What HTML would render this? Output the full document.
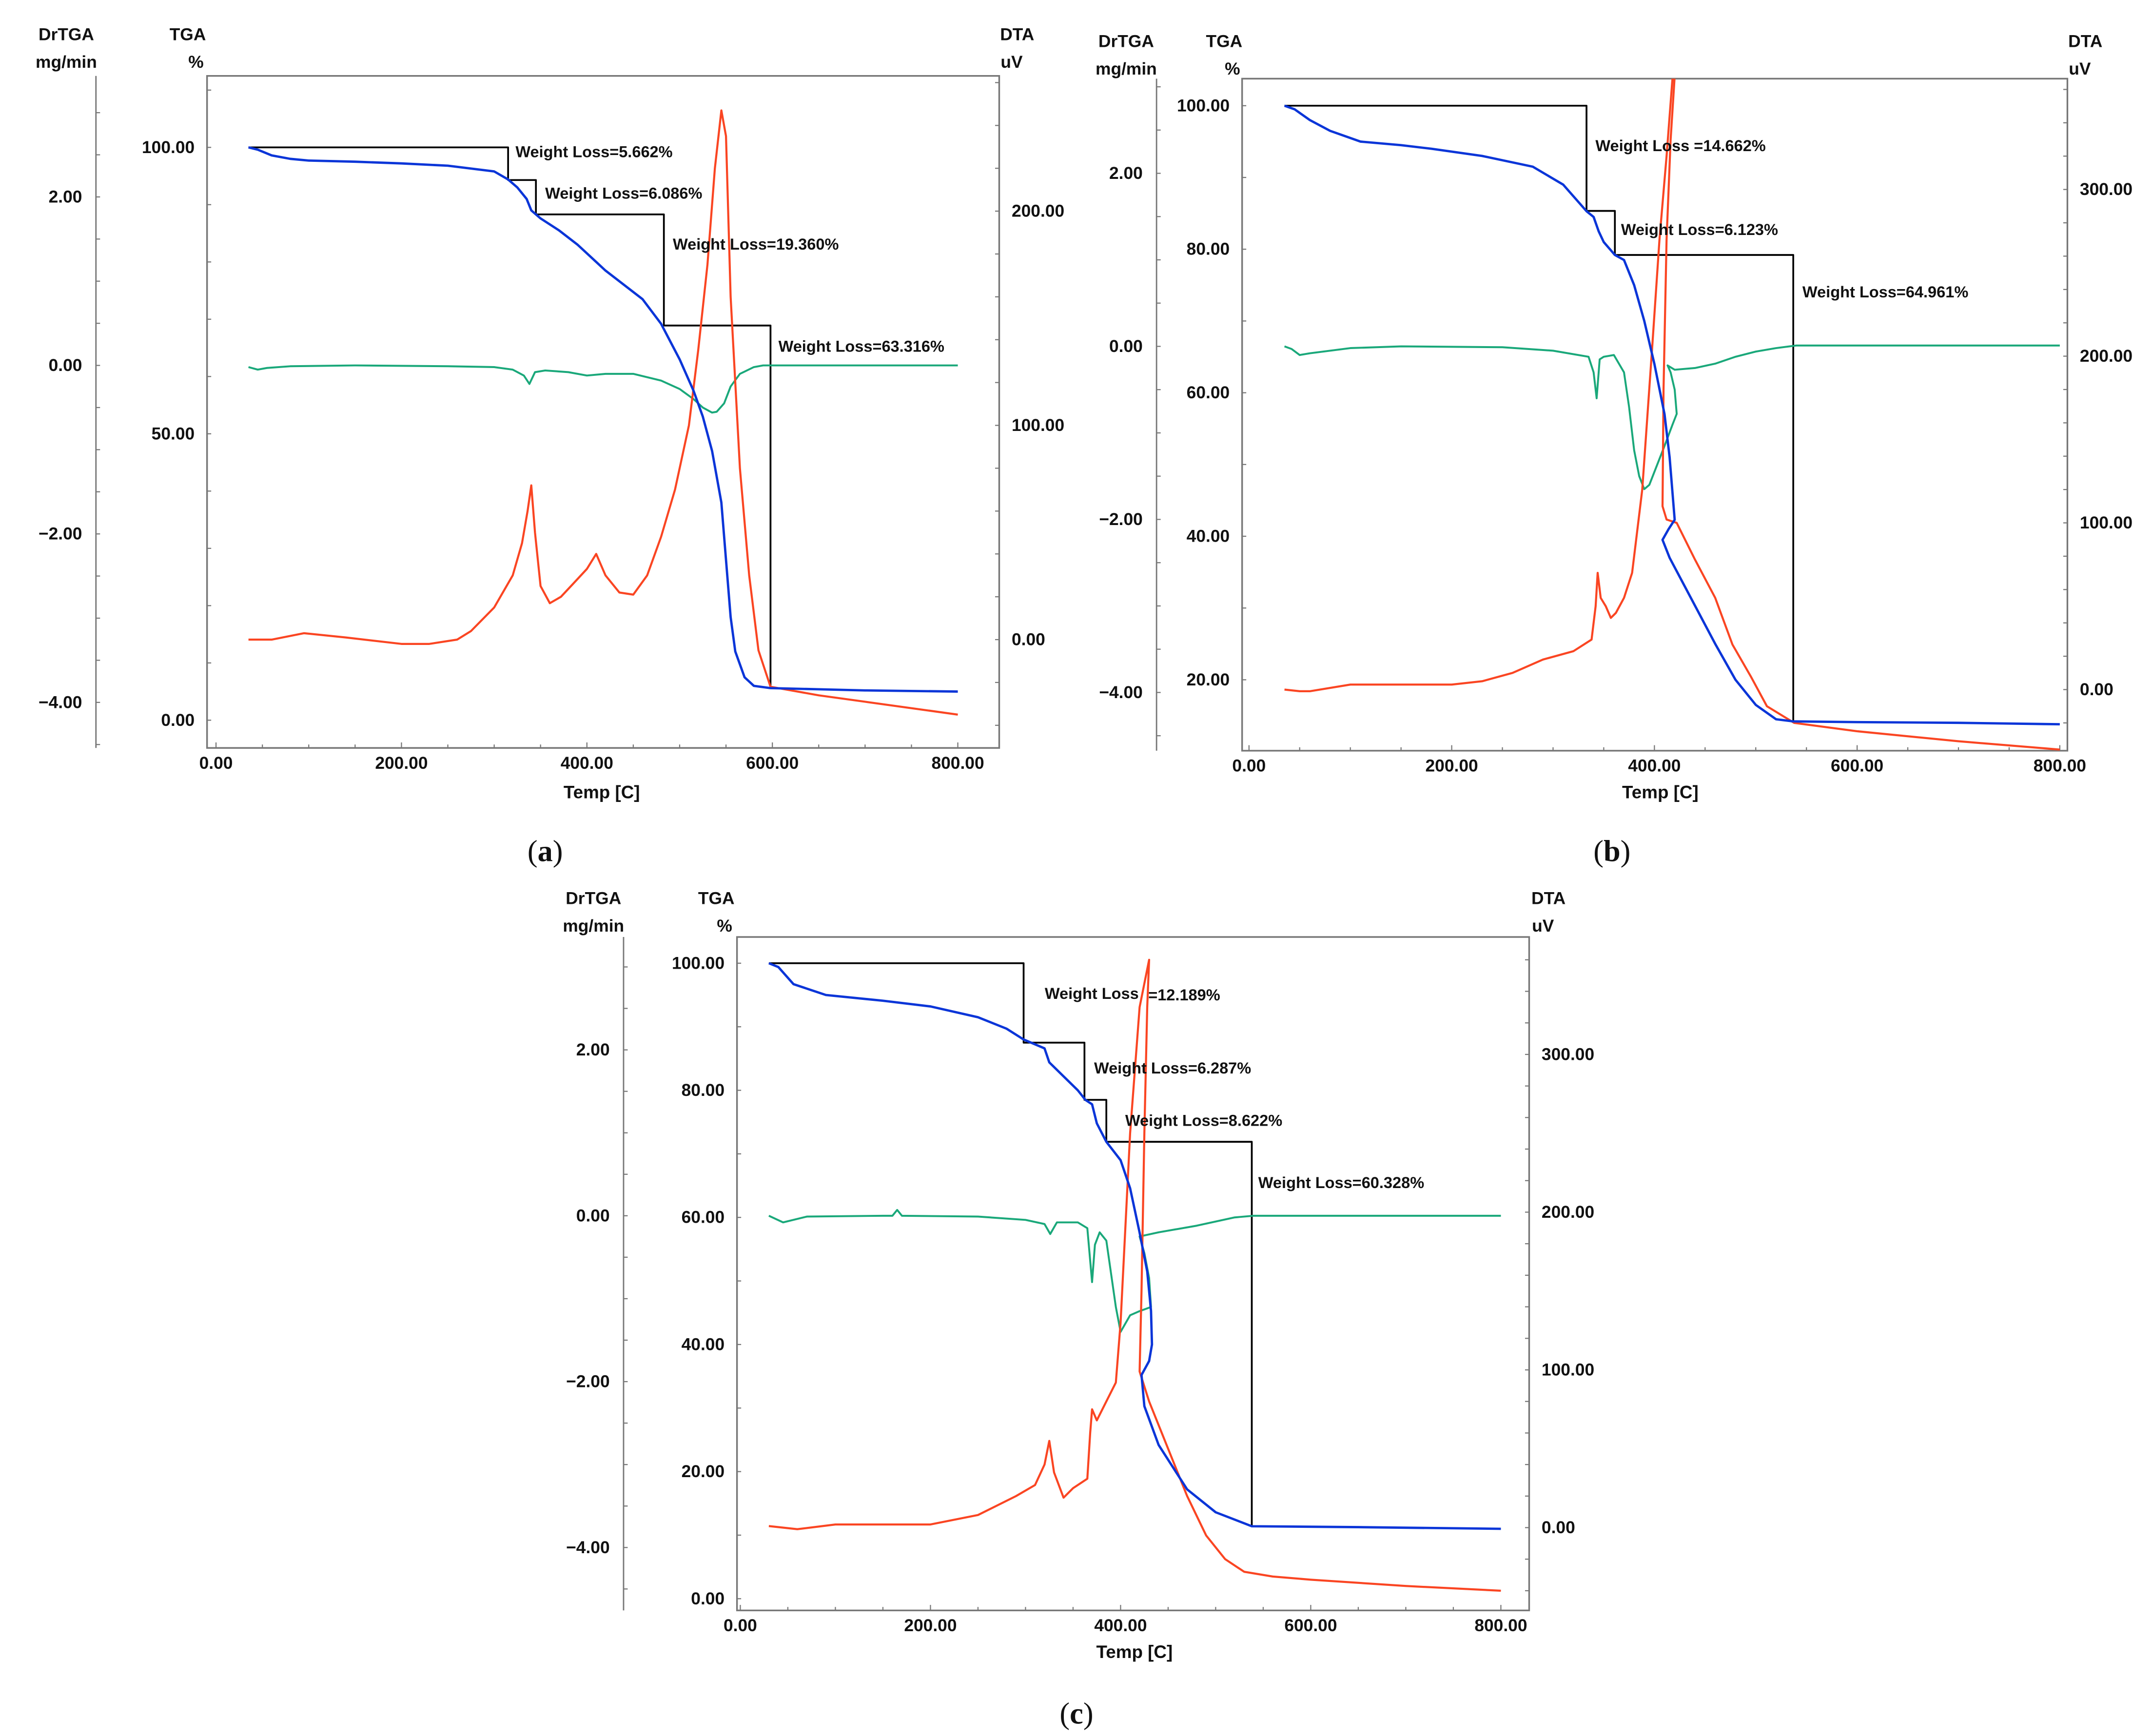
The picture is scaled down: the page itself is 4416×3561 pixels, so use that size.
<!DOCTYPE html>
<html><head><meta charset="utf-8"><style>
html,body{margin:0;padding:0;background:#fff}
svg{display:block}
text{font-family:"Liberation Sans",sans-serif}
</style></head><body>
<svg id="fig" xmlns="http://www.w3.org/2000/svg" width="4416" height="3561" viewBox="0 0 1560 1258">
<rect width="1560" height="1258" fill="#fff"/>
</svg>
<script>
// ---- Panel (a) data ----
const aTgaT=[35,45,60,80,100,150,200,250,300,315,325,335,340,345,350,370,390,410,420,440,460,480,500,515,525,535,545,550,555,560,570,580,598,650,700,800];
const aTgaV=[100,99.6,98.6,98,97.7,97.5,97.2,96.8,95.8,94.4,93,91,89,88.3,87.6,85.5,83,80,78.5,76,73.5,69.2,63,57.5,53,47,38,28,18,12,7.5,6,5.6,5.4,5.2,5];
const aStepT=[35,315,315,345,345,483,483,598,598];
const aStepV=[100,100,94.3,94.3,88.3,88.3,68.9,68.9,5.6];
const aDrT=[35,45,55,80,150,250,300,320,332,338,344,355,380,400,420,450,480,500,515,525,535,540,548,555,565,580,590,620,800];
const aDrV=[-0.02,-0.05,-0.03,-0.01,0,-0.01,-0.02,-0.05,-0.12,-0.22,-0.08,-0.06,-0.08,-0.12,-0.1,-0.1,-0.18,-0.28,-0.4,-0.5,-0.56,-0.55,-0.45,-0.25,-0.1,-0.02,0,0,0];
const aDtaT=[35,60,95,140,200,230,260,275,300,320,330,336,340,344,350,360,372,385,400,410,420,435,450,465,480,495,510,520,530,538,545,550,555,565,575,585,598,650,700,800];
const aDtaV=[0,0,3,1,-2,-2,0,4,15,30,45,60,72,50,25,17,20,26,33,40,30,22,21,30,48,70,100,135,175,220,247,235,160,80,30,-5,-22,-26,-29,-35];
const aTgaTicks=[0,50,100], aDrTicks=[2,0,-2,-4], aDtaTicks=[0,100,200], aXTicks=[0,200,400,600,800];
const aLabels=["Weight Loss=5.662%","Weight Loss=6.086%","Weight Loss=19.360%","Weight Loss=63.316%"];

// ---- Panel (b) data ----
const bTgaT=[35,45,60,80,110,150,180,230,280,310,333,340,345,350,361,370,380,390,400,410,415,420,414,408,415,430,445,460,480,500,520,537,600,700,800];
const bTgaV=[100,99.5,98,96.5,95,94.5,94,93,91.5,89,85.3,84.5,82.5,81,79.2,78.5,75,70,64,57,51,42.3,41,39.5,37,33,29,25,20,16.5,14.5,14.2,14.1,14,13.8];
const bStepT=[35,333,333,361,361,537,537];
const bStepV=[100,100,85.34,85.34,79.2,79.2,14.24];
const bDrT=[35,42,50,60,100,150,250,300,335,340,343,346,350,360,370,375,380,385,390,395,400,410,418,422,420,416,413,420,440,460,480,500,520,540,800];
const bDrV=[0,-0.03,-0.1,-0.08,-0.02,0,-0.01,-0.05,-0.12,-0.3,-0.6,-0.15,-0.12,-0.1,-0.3,-0.7,-1.2,-1.5,-1.65,-1.6,-1.45,-1.15,-0.9,-0.78,-0.5,-0.3,-0.22,-0.27,-0.25,-0.2,-0.12,-0.06,-0.02,0.01,0.01];
const bDtaT=[35,50,60,100,200,230,260,290,320,338,342,344,347,352,357,362,370,378,388,398,405,412,418,420,416,412,409,408,412,422,440,460,477,495,511,538,600,700,800];
const bDtaV=[0,-1,-1,3,3,5,10,18,23,30,50,70,55,50,43,46,55,70,120,207,270,320,368,368,330,270,180,110,102,100,78,55,27,8,-10,-20,-25,-31,-36];
const bTgaTicks=[20,40,60,80,100], bDrTicks=[2,0,-2,-4], bDtaTicks=[0,100,200,300], bXTicks=[0,200,400,600,800];
const bLabels=["Weight Loss =14.662%","Weight Loss=6.123%","Weight Loss=64.961%"];

// ---- Panel (c) data ----
const cTgaT=[30,40,56,90,150,200,250,280,298,320,325,340,355,363,370,375,385,400,410,420,428,432,433,430,422,425,440,470,500,538,650,800];
const cTgaV=[100,99.4,96.7,95,94.1,93.2,91.5,89.7,88,86.6,84.4,82.2,80,78.5,77.8,74.8,71.9,69,64.6,57.6,51.5,45.3,40,37.4,35.2,30.3,24.2,17.2,13.6,11.4,11.26,11];
const cStepT=[30,298,298,362,362,385,385,538,538];
const cStepV=[100,100,87.5,87.5,78.5,78.5,71.9,71.9,11.4];
const cDrT=[30,45,70,150,160,165,170,250,300,320,326,333,355,365,370,373,378,385,395,400,405,410,420,432,430,425,420,440,480,520,540,800];
const cDrV=[0,-0.08,-0.01,0,0,0.07,0,-0.01,-0.05,-0.1,-0.22,-0.08,-0.08,-0.15,-0.8,-0.35,-0.2,-0.3,-1.1,-1.4,-1.3,-1.2,-1.15,-1.1,-0.75,-0.45,-0.25,-0.2,-0.12,-0.02,0,0];
const cDtaT=[30,60,100,200,250,290,310,320,325,330,340,350,365,368,370,375,385,395,400,410,420,430,428,425,422,420,430,450,470,490,510,530,560,600,700,800];
const cDtaV=[1,-1,2,2,8,20,27,40,55,35,19,25,31,60,75,68,80,92,130,250,330,360,330,250,150,99,80,50,20,-5,-20,-28,-31,-33,-37,-40];
const cTgaTicks=[0,20,40,60,80,100], cDrTicks=[2,0,-2,-4], cDtaTicks=[0,100,200,300], cXTicks=[0,200,400,600,800];
const cLabels=["Weight Loss","=12.189%","Weight Loss=6.287%","Weight Loss=8.622%","Weight Loss=60.328%"];

const NS="http://www.w3.org/2000/svg";
const svg=document.getElementById('fig');
function mk(tag,attrs,parent){const e=document.createElementNS(NS,tag);for(const k in attrs)e.setAttribute(k,attrs[k]);(parent||svg).appendChild(e);return e;}
function txt(s,x,y,anchor,size,weight,parent,fam){const t=mk('text',{x:x,y:y,'text-anchor':anchor,'font-size':size,'font-weight':weight,'dominant-baseline':'central',fill:'#111'},parent);if(fam)t.setAttribute('style','font-family:'+fam);t.textContent=s;return t;}
function fmt(v){return (v<0?'\u2212':'')+Math.abs(v).toFixed(2);}

function panel(id,P,D){
  const g=mk('g',{});
  
  
  const [fx0,fy0,fx1,fy1]=P.frame;
  const X=t=>P.x0+(P.x800-P.x0)*t/800;
  const Ytga=v=>P.tga0+(P.tga100-P.tga0)*v/100;
  const Ydr=v=>P.dr0-P.drUnit*v;
  const Ydta=v=>P.dta0-P.dta100*v/100;
  const cid='clip-'+id;
  const cp=mk('clipPath',{id:cid},g);mk('rect',{x:fx0,y:fy0,width:fx1-fx0,height:fy1-fy0},cp);
  const fr=mk('rect',{x:fx0,y:fy0,width:fx1-fx0,height:fy1-fy0,fill:'none',stroke:'#777','stroke-width':1.2},g);
  
  
  const da=mk('line',{x1:P.drX,y1:fy0,x2:P.drX,y2:fy1,stroke:'#777','stroke-width':1},g);
  
  
  for(let v=-5;v<=3.01;v+=0.5){const y=Ydr(v);if(y<fy0||y>fy1)continue;mk('line',{x1:P.drX,y1:y,x2:P.drX+3,y2:y,stroke:'#777','stroke-width':0.8},g);}
  for(let v=-20;v<=120;v+=10){const y=Ytga(v);if(y<fy0||y>fy1)continue;mk('line',{x1:fx0,y1:y,x2:fx0+3,y2:y,stroke:'#777','stroke-width':0.8},g);}
  for(let v=-100;v<=400;v+=20){const y=Ydta(v);if(y<fy0||y>fy1)continue;mk('line',{x1:fx1,y1:y,x2:fx1-3,y2:y,stroke:'#777','stroke-width':0.8},g);}
  for(let v=0;v<=800;v+=50){mk('line',{x1:X(v),y1:fy1,x2:X(v),y2:fy1-(v%200==0?4:2.5),stroke:'#777','stroke-width':0.8},g);}
  D.tgaTicks.forEach(v=>{const t=txt(v.toFixed(2),fx0-9,Ytga(v),'end',12.5,'bold',g);});
  D.drTicks.forEach(v=>{const t=txt(fmt(v),P.drX-10,Ydr(v),'end',12.5,'bold',g);});
  D.dtaTicks.forEach(v=>{const t=txt(v.toFixed(2),fx1+9,Ydta(v),'start',12.5,'bold',g);});
  D.xTicks.forEach(v=>{const t=txt(v.toFixed(2),X(v),fy1+11,'middle',12.5,'bold',g);});
  [['DrTGA',P.lab.dr[0],P.lab.dr[1],'drtga-title'],['mg/min',P.lab.dr[0],P.lab.dr[1]+20,'drtga-unit'],
   ['TGA',P.lab.tga[0],P.lab.tga[1],'tga-title'],['%',P.lab.tga[0]+6,P.lab.tga[1]+20,'tga-unit'],
   ['DTA',P.lab.dta[0],P.lab.dta[1],'dta-title'],['uV',P.lab.dta[0]-4,P.lab.dta[1]+20,'dta-unit']].forEach(a=>{
     const t=txt(a[0],a[1],a[2],'middle',12.5,'bold',g);});
  const xt=txt('Temp  [C]',P.lab.temp[0],P.lab.temp[1],'middle',13,'bold',g);
  
  
  xt.setAttribute('xml:space','preserve');
  const pl=mk('text',{x:P.lab.panel[0],y:P.lab.panel[1],'text-anchor':'middle','font-size':22,'dominant-baseline':'central',fill:'#111',style:'font-family:"Liberation Serif",serif'},g);
  
  
  const s1=mk('tspan',{},pl);s1.textContent='(';
  const s2=mk('tspan',{'font-weight':'bold'},pl);s2.textContent=id;
  const s3=mk('tspan',{},pl);s3.textContent=')';
  const cg=mk('g',{'clip-path':'url(#'+cid+')'},g);
  function line(T,V,Y,color,name,w){
    const d=T.map((t,i)=>(i?'L':'M')+X(t).toFixed(2)+','+Y(V[i]).toFixed(2)).join('');
    const p=mk('path',{d:d,fill:'none',stroke:color,'stroke-width':w||1.5,'stroke-linejoin':'round'},cg);
    
    
  }
  line(D.stepT,D.stepV,Ytga,'#000','weight-loss-steps',1.3);
  line(D.drT,D.drV,Ydr,'#1aa87a','drtga-curve',1.4);
  line(D.dtaT,D.dtaV,Ydta,'#fa4522','dta-curve',1.5);
  line(D.tgaT,D.tgaV,Ytga,'#0a35d8','tga-curve',1.7);
  D.labels.forEach((s,i)=>{const L=P.wl[i];const t=txt(s,L[0],L[1],'start',11.5,'bold',g);});
}

panel('a',{frame:[150,55,724,542],x0:156.5,x800:694,tga100:106.8,tga0:521.9,dr0:264.8,drUnit:61.05,dta0:463.5,dta100:155.25,drX:69.5,
  lab:{dr:[48,25],tga:[136,25],dta:[737,25],temp:[436,574],panel:[395,617]},
  wl:[[373.5,110],[395,140],[487.5,177],[564,251]]},
  {tgaT:aTgaT,tgaV:aTgaV,stepT:aStepT,stepV:aStepV,drT:aDrT,drV:aDrV,dtaT:aDtaT,dtaV:aDtaV,tgaTicks:aTgaTicks,drTicks:aDrTicks,dtaTicks:aDtaTicks,xTicks:aXTicks,labels:aLabels});
panel('b',{frame:[900,57,1498,544],x0:905,x800:1492.5,tga100:76.6,tga0:596.6,dr0:251,drUnit:62.7,dta0:499.7,dta100:120.8,drX:838,
  lab:{dr:[816,30],tga:[887,30],dta:[1511,30],temp:[1203,574],panel:[1168,617]},
  wl:[[1156,105.6],[1174.5,166.4],[1306,211.6]]},
  {tgaT:bTgaT,tgaV:bTgaV,stepT:bStepT,stepV:bStepV,drT:bDrT,drV:bDrV,dtaT:bDtaT,dtaV:bDtaV,tgaTicks:bTgaTicks,drTicks:bDrTicks,dtaTicks:bDtaTicks,xTicks:bXTicks,labels:bLabels});
panel('c',{frame:[534,679,1108,1167],x0:536.4,x800:1087.5,tga100:698,tga0:1158.5,dr0:881,drUnit:60.1,dta0:1107,dta100:114.3,drX:451.8,
  lab:{dr:[430,651],tga:[519,651],dta:[1122,651],temp:[822,1197],panel:[780,1242]},
  wl:[[757,720],[832,721],[792.7,774],[815.3,812],[911.7,857]]},
  {tgaT:cTgaT,tgaV:cTgaV,stepT:cStepT,stepV:cStepV,drT:cDrT,drV:cDrV,dtaT:cDtaT,dtaV:cDtaV,tgaTicks:cTgaTicks,drTicks:cDrTicks,dtaTicks:cDtaTicks,xTicks:cXTicks,labels:cLabels});
</script>
</body></html>
